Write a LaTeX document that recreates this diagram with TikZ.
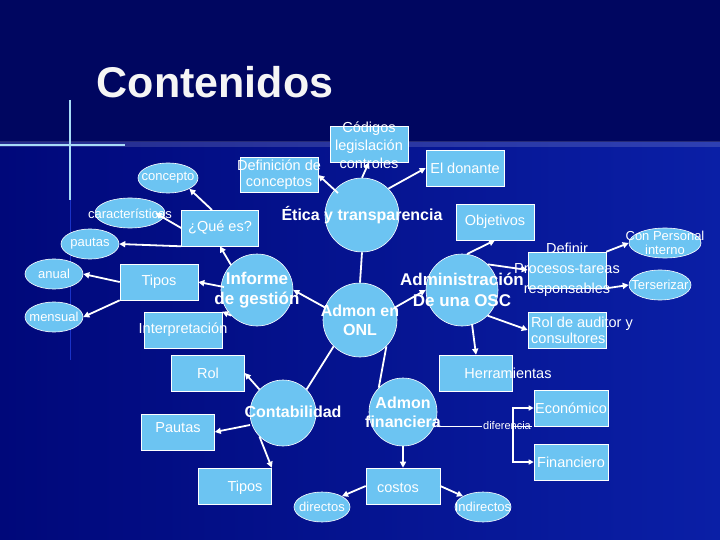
\documentclass[tikz,border=0pt]{standalone}
\usepackage{fontspec}
\setmainfont{Liberation Sans}
\usetikzlibrary{shapes.geometric,arrows.meta}
\definecolor{lb}{HTML}{6CC4F2}
\definecolor{bgtop}{HTML}{000660}
\definecolor{bgl}{HTML}{00087A}
\definecolor{bgr}{HTML}{0A1FA6}
\begin{document}
\begin{tikzpicture}[x=1pt,y=-1pt,
  box/.style={draw=white,line width=0.6pt,fill=lb,minimum width=#1,minimum height=36pt,inner sep=0pt},
  box/.default=78pt,
  ell/.style={ellipse,draw=white,line width=0.6pt,fill=lb,minimum width=#1,minimum height=30pt,inner sep=0pt},
  ell/.default=58pt,
  circ/.style={circle,draw=white,line width=0.6pt,fill=lb,minimum size=#1,inner sep=0pt},
  circ/.default=72pt,
  txt/.style={text=white,font=\fontsize{14.5}{16}\selectfont,align=center,inner sep=0pt},
  btxt/.style={text=white,font=\fontsize{16}{19}\selectfont\bfseries,align=center,inner sep=0pt},
  stxt/.style={text=white,font=\fontsize{13}{14}\selectfont,align=center,inner sep=0pt},
  arr/.style={white,line width=1.8pt,-{Triangle[length=6pt,width=6pt]}},
  ln/.style={white,line width=1.8pt}]
\useasboundingbox (0,0) rectangle (720,540);
\shade[left color=bgl,right color=bgr] (0,0) rectangle (720,540);
\fill[bgtop] (0,0) rectangle (720,142);
\fill[white,opacity=0.15] (0,141) rectangle (720,147);
\draw[line width=1.2pt,lb!60!white] (0,145) -- (125,145);
\draw[line width=1.2pt,lb!60!white] (70,100) -- (70,200);
\draw[line width=0.8pt,lb!40!blue,opacity=0.6] (70,200) -- (70,360);
\node[text=white!92!gray,font=\fontsize{43}{46}\selectfont\bfseries] (title) at (215,82) {Contenidos};

% nodes
\node[ell=60pt] (concepto) at (168,178) {};
\node[stxt] at (168,178) {concepto};
\node[ell=70pt] (caract) at (130,213) {};
\node[stxt] at (130,214) {características};
\node[ell] (pautas) at (90,244) {};
\node[stxt] at (90,244) {pautas};
\node[ell] (anual) at (54,274) {};
\node[stxt] at (54,274) {anual};
\node[ell] (mensual) at (54,317) {};
\node[stxt] at (54,317) {mensual};
\node[box=77pt] (que) at (220,228) {};
\node[txt] at (220,228) {¿Qué es?};
\node[box] (tipos1) at (159,282) {};
\node[txt] at (159,282) {Tipos};
\node[box] (interp) at (183,330) {};
\node[txt] at (183,330) {Interpretación};
\node[circ] (informe) at (257,290) {};
\node[btxt,font=\fontsize{17}{20}\selectfont\bfseries] at (257,290) {Informe\\de gestión};
\node[box,minimum height=35pt] (defin) at (279,175) {};
\node[txt] at (279,175) {Definición de\\conceptos};
\node[box] (codigos) at (369,144) {};
\node[txt,font=\fontsize{14.5}{18}\selectfont] at (369,145) {Códigos\\legislación\\controles};
\node[box] (donante) at (465,168) {};
\node[txt] at (465,168) {El donante};
\node[circ=74pt] (etica) at (362,215) {};
\node[btxt] at (362,215) {Ética y transparencia};
\node[box] (objet) at (495,222) {};
\node[txt] at (495,222) {Objetivos};
\node[circ] (admin) at (462,290) {};
\node[btxt,font=\fontsize{17}{21}\selectfont\bfseries] at (462,290) {Administración\\De una OSC};
\node[box] (definir) at (567,270) {};
\node[txt,font=\fontsize{14.5}{20}\selectfont] at (567,270) {Definir\\Procesos-tareas\\responsables};
\node[ell=72pt] (personal) at (665,243) {};
\node[stxt] at (665,243) {Con Personal\\interno};
\node[ell=62pt] (terser) at (660,285) {};
\node[stxt] at (660,285) {Terserizar};
\node[box] (auditor) at (567,330) {};
\node[txt,align=left] at (582,330) {Rol de auditor y\\consultores};
\node[circ=74pt] (onl) at (360,320) {};
\node[btxt] at (360,320) {Admon en\\ONL};
\node[box=73pt] (herram) at (476,373) {};
\node[txt] at (508,373) {Herramientas};
\node[box=73pt] (rol) at (208,373) {};
\node[txt] at (208,373) {Rol};
\node[circ=66pt] (contab) at (283,413) {};
\node[btxt] at (293,412) {Contabilidad};
\node[box=73pt] (pautas2) at (178,432) {};
\node[txt] at (178,428) {Pautas};
\node[box=73pt] (tipos2) at (235,486) {};
\node[txt] at (245,488) {Tipos};
\node[circ=68pt] (financ) at (403,412) {};
\node[btxt] at (403,412) {Admon\\financiera};
\node[box=74pt] (costos) at (403,486) {};
\node[txt] at (398,488) {costos};
\node[ell=56pt] (directos) at (322,507) {};
\node[stxt] at (322,507) {directos};
\node[ell=56pt] (indirectos) at (483,507) {};
\node[stxt] at (483,507) {Indirectos};
\node[box=74pt] (econ) at (571,408) {};
\node[txt] at (571,408) {Económico};
\node[box=74pt] (finan) at (571,462) {};
\node[txt] at (571,462) {Financiero};
\node[stxt,font=\fontsize{11}{12}\selectfont,inner sep=1pt] (dif) at (507,426) {diferencia};
\coordinate (br) at (513,426);

% connectors
\coordinate (q1) at (212,210);
\draw[arr] (q1) -- (concepto.south east);
\draw[arr] (que.west) -- ([xshift=-10pt]caract.east);
\draw[arr] (que.south west) -- (pautas.east);
\coordinate (i0) at (231,265);
\draw[arr] (i0) -- (que.south);
\coordinate (i1) at (224,287);
\draw[arr] (i1) -- (tipos1.east);
\draw[arr] (tipos1.west) -- (anual.east);
\draw[arr] (tipos1.south west) -- (mensual.east);
\draw[arr] (informe.south west) -- (interp.north east);
\coordinate (o1) at (326,308);
\draw[arr] (o1) -- (informe.east);
\coordinate (e1) at (338,193);
\draw[arr] (e1) -- (defin.east);
\draw[arr] (etica.north) -- (codigos.south);
\draw[arr] (etica.north east) -- (donante.west);
\draw[ln] (etica.south) -- (onl.north);
\coordinate (o2) at (394,308);
\draw[arr] (o2) -- (admin.west);
\coordinate (a1) at (467,254);
\draw[arr] (a1) -- (objet.south);
\draw[arr] (admin.north east) -- (definir.west);
\draw[arr] (definir.north east) -- (personal.west);
\draw[arr] (definir.south east) -- (terser.west);
\draw[arr] (admin.south east) -- (auditor.west);
\coordinate (a2) at (472,324);
\draw[arr] (a2) -- (herram.north);
\draw[ln] (onl.south west) -- (contab.north east);
\draw[ln] (onl.south east) -- (financ.north west);
\draw[arr] (contab.north west) -- (rol.east);
\coordinate (c1) at (250,425);
\draw[arr] (c1) -- (pautas2.east);
\draw[arr] (contab.south west) -- (tipos2.north east);
\draw[arr] (financ.south) -- (costos.north);
\draw[arr] (costos.west) -- (directos.north east);
\draw[arr] (costos.east) -- (indirectos.north west);
\draw[white,line width=0.8pt] (financ.east|-dif) -- (dif.west);
\draw[white,line width=0.8pt] (dif.east) -- (br);
\draw[white,line width=1.2pt,-{Triangle[length=5pt,width=5pt]}] (br) |- (econ.west);
\draw[white,line width=1.2pt,-{Triangle[length=5pt,width=5pt]}] (br) |- (finan.west);
\end{tikzpicture}
\end{document}
